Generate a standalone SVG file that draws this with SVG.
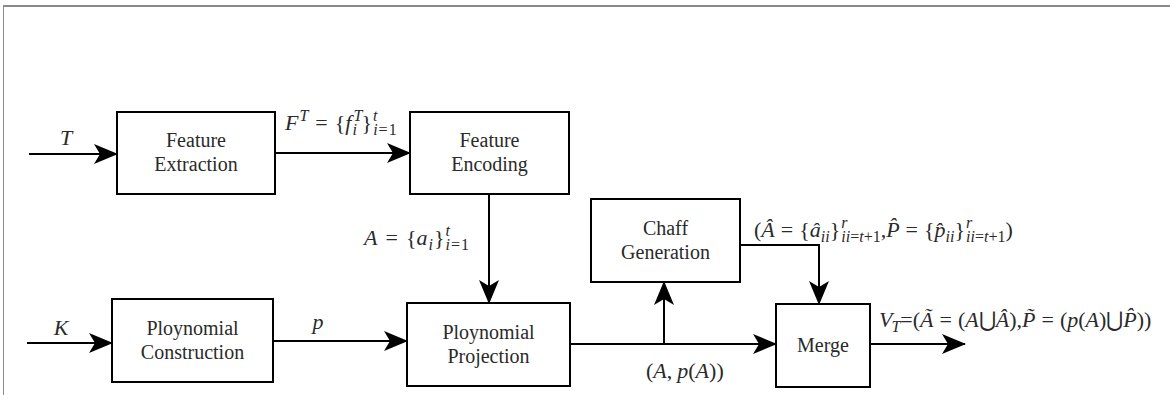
<svg xmlns="http://www.w3.org/2000/svg" width="1170" height="395" viewBox="0 0 1170 395">
<style>
.box{fill:#fff;stroke:#000;stroke-width:2}
.lbl{font-family:'Liberation Serif','Times New Roman',Times,'DejaVu Serif',serif;font-size:20px;fill:#2a2a2a;text-anchor:middle}
.m{font-family:'Liberation Serif','Times New Roman',Times,'DejaVu Serif',serif;font-size:22px;fill:#2a2a2a}
.i{font-style:italic}
.s{font-size:16px}
.u{font-family:'DejaVu Serif',serif;font-size:21px}
.conn{stroke:#000;stroke-width:2;fill:none}
</style>
<defs>
<marker id="ah" markerUnits="userSpaceOnUse" viewBox="0 0 24 20" refX="23" refY="10" markerWidth="24" markerHeight="20" orient="auto">
<path d="M0,0 L24,10 L0,20 L6,10 Z" fill="#000"/>
</marker>
</defs>
<rect width="1170" height="395" fill="#fff"/>
<g id="frame">
<line x1="3" y1="6" x2="1170" y2="6" stroke="#8a8a8a" stroke-width="2"/>
<line x1="3.5" y1="6" x2="3.5" y2="395" stroke="#8a8a8a" stroke-width="1"/>
</g>
<g id="connectors">
<path class="conn" d="M29,154 H117" marker-end="url(#ah)"/>
<path class="conn" d="M275,153 H410" marker-end="url(#ah)"/>
<path class="conn" d="M489,194 V303" marker-end="url(#ah)"/>
<path class="conn" d="M27,343 H112" marker-end="url(#ah)"/>
<path class="conn" d="M273,341 H407" marker-end="url(#ah)"/>
<path class="conn" d="M570,344 H776" marker-end="url(#ah)"/>
<path class="conn" d="M664,344 V282" marker-end="url(#ah)"/>
<path class="conn" d="M740,245 H819 V304" marker-end="url(#ah)"/>
<path class="conn" d="M870,344 H965" marker-end="url(#ah)"/>
</g>
<g id="feature-extraction">
<rect class="box" x="117" y="112" width="158" height="82"/>
<text class="lbl" x="196" y="147">Feature</text>
<text class="lbl" x="196" y="171">Extraction</text>
</g>
<g id="feature-encoding">
<rect class="box" x="410" y="112" width="159" height="82"/>
<text class="lbl" x="489.5" y="147">Feature</text>
<text class="lbl" x="489.5" y="171">Encoding</text>
</g>
<g id="polynomial-construction">
<rect class="box" x="112" y="299" width="161" height="83"/>
<text class="lbl" x="192.5" y="335">Ploynomial</text>
<text class="lbl" x="192.5" y="359">Construction</text>
</g>
<g id="polynomial-projection">
<rect class="box" x="407" y="303" width="163" height="83"/>
<text class="lbl" x="488.5" y="339">Ploynomial</text>
<text class="lbl" x="488.5" y="363">Projection</text>
</g>
<g id="chaff-generation">
<rect class="box" x="591" y="199" width="149" height="83"/>
<text class="lbl" x="665.5" y="235">Chaff</text>
<text class="lbl" x="665.5" y="259">Generation</text>
</g>
<g id="merge">
<rect class="box" x="776" y="304" width="94" height="83"/>
<text class="lbl" x="823" y="352">Merge</text>
</g>
<g id="labels">
<text class="m i" x="66" y="145" text-anchor="middle">T</text>
<text class="m i" x="61" y="335" text-anchor="middle">K</text>
<text class="m i" x="318" y="329" text-anchor="middle">p</text>
<text class="m" x="285" y="130"><tspan class="i">F</tspan><tspan class="i s" dx="1" dy="-9">T</tspan><tspan dx="7" dy="9">=</tspan><tspan dx="7">{</tspan><tspan class="i">f</tspan><tspan class="i s" dx="2" dy="-9">T</tspan><tspan class="i s" dx="-8.9" dy="14">i</tspan><tspan dx="4.5" dy="-5">}</tspan><tspan class="i s" dx="1" dy="-9">t</tspan><tspan class="s" dx="-4.4" dy="14"><tspan class="i">i</tspan><tspan dx="1">=</tspan><tspan dx="1">1</tspan></tspan></text>
<text class="m" x="364" y="245"><tspan class="i">A</tspan><tspan dx="8">=</tspan><tspan dx="8">{</tspan><tspan class="i">a</tspan><tspan class="i s" dx="1" dy="5">i</tspan><tspan dx="1" dy="-5">}</tspan><tspan class="i s" dx="1" dy="-9">t</tspan><tspan class="s" dx="-4.4" dy="14"><tspan class="i">i</tspan><tspan dx="1">=</tspan><tspan dx="1">1</tspan></tspan></text>
<text class="m" x="754" y="237"><tspan>(</tspan><tspan class="i">Â</tspan><tspan dx="6">=</tspan><tspan dx="6">{</tspan><tspan class="i">â</tspan><tspan class="i s" dy="5">ii</tspan><tspan dy="-5">}</tspan><tspan class="i s" dx="1" dy="-9">r</tspan><tspan class="s" dx="-6.2" dy="14"><tspan class="i">ii</tspan>=<tspan class="i">t</tspan>+1</tspan><tspan dy="-5">,</tspan><tspan class="i">P̂</tspan><tspan dx="6">=</tspan><tspan dx="6">{</tspan><tspan class="i">p̂</tspan><tspan class="i s" dy="5">ii</tspan><tspan dy="-5">}</tspan><tspan class="i s" dx="1" dy="-9">r</tspan><tspan class="s" dx="-6.2" dy="14"><tspan class="i">ii</tspan>=<tspan class="i">t</tspan>+1</tspan><tspan dy="-5">)</tspan></text>
<text class="m" x="879" y="327"><tspan class="i">V</tspan><tspan class="i s" dx="-1" dy="5">T</tspan><tspan dy="-5">=(</tspan><tspan class="i">Ã</tspan><tspan dx="6">=</tspan><tspan dx="6">(</tspan><tspan class="i">A</tspan><tspan class="u">⋃</tspan><tspan class="i">Â</tspan><tspan>),</tspan><tspan class="i">P̃</tspan><tspan dx="6">=</tspan><tspan dx="6">(</tspan><tspan class="i">p</tspan><tspan>(</tspan><tspan class="i">A</tspan><tspan>)</tspan><tspan class="u">⋃</tspan><tspan class="i">P̂</tspan><tspan>))</tspan></text>
<text class="m" x="646" y="378"><tspan>(</tspan><tspan class="i">A</tspan><tspan>,</tspan><tspan class="i" dx="5">p</tspan><tspan>(</tspan><tspan class="i">A</tspan><tspan>))</tspan></text>
</g>
</svg>
